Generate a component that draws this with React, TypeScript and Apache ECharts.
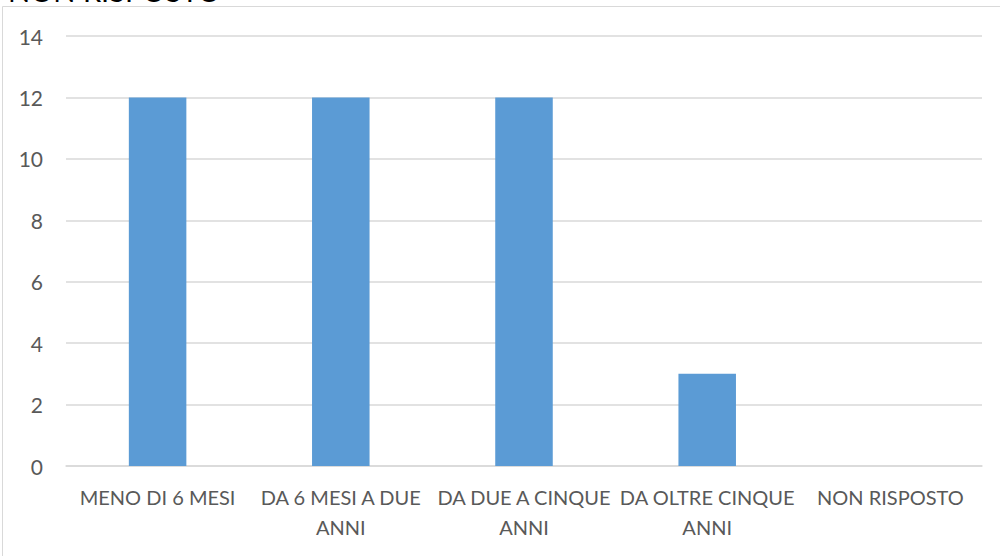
import React, { useEffect, useRef } from "react";
import * as echarts from "echarts";

const categories: string[] = [
  "MENO DI 6 MESI",
  "DA 6 MESI A DUE\nANNI",
  "DA DUE A CINQUE\nANNI",
  "DA OLTRE CINQUE\nANNI",
  "NON RISPOSTO",
];
const values: number[] = [12, 12, 12, 3, 0];
const titleText = "NON RISPOSTO";

export default function App() {
  const ref = useRef<HTMLDivElement>(null);
  useEffect(() => {
    if (!ref.current) return;
    const chart = echarts.init(ref.current, null, { renderer: "svg" });
    const font = "Lato, 'Open Sans', sans-serif";
    chart.setOption({
      animation: false,
      backgroundColor: "#ffffff",
      grid: { left: 66, right: 18, top: 36, bottom: 90, containLabel: false },
      graphic: [
        {
          type: "rect",
          shape: { x: 2.5, y: 6.5, width: 1000, height: 600 },
          style: { fill: "none", stroke: "#d9d9d9", lineWidth: 1 },
          z: -1,
        },
        {
          type: "text",
          x: 8,
          y: -10,
          style: {
            text: titleText,
            fontSize: 29,
            fontFamily: font,
            fill: "#000000",
            verticalAlign: "middle",
            align: "left",
          },
        },
      ],
      xAxis: {
        type: "category",
        data: categories,
        axisLine: { show: true, lineStyle: { color: "#d9d9d9", width: 1.5 } },
        axisTick: { show: false },
        axisLabel: {
          interval: 0,
          color: "#595959",
          fontSize: 20,
          fontFamily: font,
          lineHeight: 30,
          margin: 16,
        },
      },
      yAxis: {
        type: "value",
        min: 0,
        max: 14,
        interval: 2,
        axisLine: { show: false },
        axisTick: { show: false },
        splitLine: { lineStyle: { color: "#d9d9d9", width: 1.5 } },
        axisLabel: {
          color: "#595959",
          fontSize: 21,
          fontFamily: font,
          margin: 23,
        },
      },
      series: [
        {
          type: "bar",
          data: values,
          barWidth: "31.4%",
          itemStyle: { color: "#5b9bd5" },
        },
      ],
    });
    return () => chart.dispose();
  }, []);
  return <div ref={ref} style={{ width: 1000, height: 556, position: "absolute", left: 0, top: 0 }} />;
}
